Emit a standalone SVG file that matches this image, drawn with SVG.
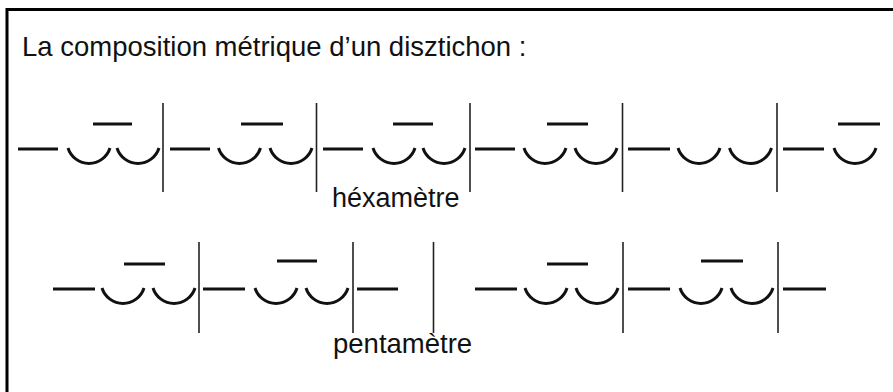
<svg xmlns="http://www.w3.org/2000/svg" width="893" height="392" viewBox="0 0 893 392">
<style>
.t{font-family:"Liberation Sans",Arial,sans-serif;fill:#111;}
.l{stroke:#111;stroke-width:3;fill:none;}
.b{stroke:#222;stroke-width:1.6;fill:none;}
</style>
<defs>
<path id="breve" d="M0,0 A22,22 0 0 0 42,0" stroke="#111" stroke-width="3" fill="none"/>
</defs>
<rect x="0" y="0" width="893" height="392" fill="#fff"/>
<rect x="7" y="9.5" width="900" height="400" fill="none" stroke="#000" stroke-width="3"/>
<text class="t" x="22" y="56" font-size="27.5">La composition métrique d’un disztichon :</text>
<g id="hexametre">
<g class="l">
<line x1="18" y1="149" x2="58" y2="149"/>
<line x1="170" y1="149" x2="210" y2="149"/>
<line x1="323" y1="149" x2="363" y2="149"/>
<line x1="475" y1="149" x2="515" y2="149"/>
<line x1="628" y1="149" x2="670" y2="149"/>
<line x1="783" y1="149" x2="824" y2="149"/>
<line x1="93" y1="124" x2="132" y2="124"/>
<line x1="241" y1="124" x2="283" y2="124"/>
<line x1="393" y1="124" x2="433" y2="124"/>
<line x1="547" y1="124" x2="588" y2="124"/>
<line x1="838" y1="124" x2="880" y2="124"/>
</g>
<use href="#breve" x="68" y="148"/>
<use href="#breve" x="117" y="148"/>
<use href="#breve" x="218.5" y="148"/>
<use href="#breve" x="270" y="148"/>
<use href="#breve" x="373" y="148"/>
<use href="#breve" x="423" y="148"/>
<use href="#breve" x="524" y="148"/>
<use href="#breve" x="575" y="148"/>
<use href="#breve" x="678" y="148"/>
<use href="#breve" x="729.5" y="148"/>
<use href="#breve" x="834" y="148"/>
<g class="b">
<line x1="163" y1="103" x2="163" y2="192"/>
<line x1="316.5" y1="103" x2="316.5" y2="192"/>
<line x1="470" y1="103" x2="470" y2="192"/>
<line x1="622.5" y1="103" x2="622.5" y2="192"/>
<line x1="777" y1="103" x2="777" y2="192"/>
</g>
<text class="t" x="332" y="207" font-size="27">héxamètre</text>
</g>
<g id="pentametre">
<g class="l">
<line x1="53" y1="289" x2="95" y2="289"/>
<line x1="203" y1="289" x2="245" y2="289"/>
<line x1="357" y1="289" x2="398" y2="289"/>
<line x1="475" y1="289" x2="517" y2="289"/>
<line x1="628" y1="289" x2="670" y2="289"/>
<line x1="783" y1="289" x2="826" y2="289"/>
<line x1="124" y1="264" x2="165" y2="264"/>
<line x1="277" y1="261" x2="317" y2="261"/>
<line x1="547" y1="264" x2="588" y2="264"/>
<line x1="701" y1="261" x2="743" y2="261"/>
</g>
<use href="#breve" x="102" y="288"/>
<use href="#breve" x="153" y="288"/>
<use href="#breve" x="255" y="288"/>
<use href="#breve" x="306" y="288"/>
<use href="#breve" x="525" y="288"/>
<use href="#breve" x="576" y="288"/>
<use href="#breve" x="680" y="288"/>
<use href="#breve" x="731" y="288"/>
<g class="b">
<line x1="199" y1="242" x2="199" y2="333"/>
<line x1="353" y1="242" x2="353" y2="333"/>
<line x1="433.5" y1="242" x2="433.5" y2="333"/>
<line x1="623" y1="242" x2="623" y2="333"/>
<line x1="778" y1="242" x2="778" y2="333"/>
</g>
<text class="t" x="333" y="353" font-size="27.5">pentamètre</text>
</g>
</svg>
